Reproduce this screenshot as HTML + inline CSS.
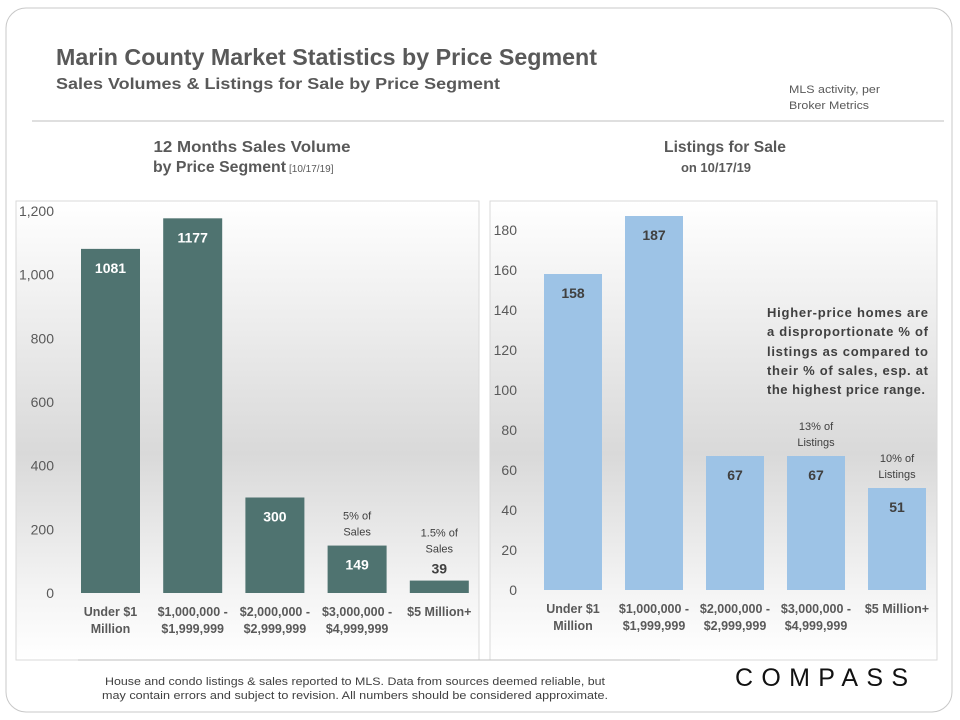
<!DOCTYPE html>
<html><head><meta charset="utf-8"><style>
body{margin:0;background:#fff;}
svg{display:block;font-family:"Liberation Sans",sans-serif;}
</style></head><body>
<svg width="960" height="720" viewBox="0 0 960 720">
<defs>
<linearGradient id="bg" x1="0" y1="0" x2="0" y2="1">
<stop offset="0" stop-color="#ffffff"/><stop offset="0.55" stop-color="#d9d9d9"/><stop offset="0.85" stop-color="#f4f4f4"/><stop offset="1" stop-color="#ffffff"/>
</linearGradient>
</defs>
<rect x="6" y="8" width="946" height="704" rx="20" fill="#fff" stroke="#c8c8c8"/>
<text x="56" y="65" font-size="23" font-weight="bold" fill="#595959" textLength="541" lengthAdjust="spacingAndGlyphs">Marin County Market Statistics by Price Segment</text>
<text x="56" y="89" font-size="16" font-weight="bold" fill="#595959" textLength="444" lengthAdjust="spacingAndGlyphs">Sales Volumes &amp; Listings for Sale by Price Segment</text>
<text x="789" y="93" font-size="11" fill="#595959" textLength="91" lengthAdjust="spacingAndGlyphs">MLS activity, per</text>
<text x="789" y="109" font-size="11" fill="#595959" textLength="80" lengthAdjust="spacingAndGlyphs">Broker Metrics</text>
<line x1="32" y1="121" x2="944" y2="121" stroke="#bfbfbf"/>
<text x="252" y="152" font-size="16" font-weight="bold" fill="#595959" text-anchor="middle" textLength="197" lengthAdjust="spacingAndGlyphs">12 Months Sales Volume</text>
<text x="153" y="172" font-size="16" font-weight="bold" fill="#595959"><tspan textLength="133" lengthAdjust="spacingAndGlyphs">by Price Segment</tspan><tspan font-size="10" font-weight="normal" dx="3">[10/17/19]</tspan></text>
<text x="725" y="152" font-size="16" font-weight="bold" fill="#595959" text-anchor="middle" textLength="122" lengthAdjust="spacingAndGlyphs">Listings for Sale</text>
<text x="716" y="172" font-size="13" font-weight="bold" fill="#595959" text-anchor="middle">on 10/17/19</text>
<rect x="16" y="201" width="463" height="459" fill="url(#bg)" stroke="#d9d9d9"/>
<rect x="490" y="201" width="447" height="459" fill="url(#bg)" stroke="#d9d9d9"/>
<g id="left"></g><g id="right"></g>
<text x="312" y="312" font-size="13" font-weight="bold" fill="#404040">
<tspan x="767" y="317" textLength="161" lengthAdjust="spacing">Higher-price homes are</tspan>
<tspan x="767" y="336" textLength="161" lengthAdjust="spacing">a disproportionate % of</tspan>
<tspan x="767" y="356" textLength="161" lengthAdjust="spacing">listings as compared to</tspan>
<tspan x="767" y="375" textLength="161" lengthAdjust="spacing">their % of sales, esp. at</tspan>
<tspan x="767" y="394" textLength="158" lengthAdjust="spacing">the highest price range.</tspan>
</text>
<line x1="78" y1="660" x2="680" y2="660" stroke="#bfbfbf"/>
<text x="355" y="685" font-size="11" fill="#404040" text-anchor="middle" textLength="500" lengthAdjust="spacingAndGlyphs">House and condo listings &amp; sales reported to MLS. Data from sources deemed reliable, but</text>
<text x="355" y="699" font-size="11" fill="#404040" text-anchor="middle" textLength="506" lengthAdjust="spacingAndGlyphs">may contain errors and subject to revision. All numbers should be considered approximate.</text>
<text x="735" y="686" font-size="25" fill="#111" textLength="173" lengthAdjust="spacing">COMPASS</text>
</svg>
<script>
const categories1 = ["Under $1|Million","$1,000,000 -|$1,999,999","$2,000,000 -|$2,999,999","$3,000,000 -|$4,999,999","$5 Million+"];
const salesValues = [1081,1177,300,149,39];
const salesTicks = [0,200,400,600,800,1000,1200];
const salesNotes = ["","","","5% of|Sales","1.5% of|Sales"];
const listingValues = [158,187,67,67,51];
const listingTicks = [0,20,40,60,80,100,120,140,160,180];
const listingNotes = ["","","","13% of|Listings","10% of|Listings"];
const NS="http://www.w3.org/2000/svg";
function mk(tag,attrs,parent,txt){const e=document.createElementNS(NS,tag);for(const k in attrs)e.setAttribute(k,attrs[k]);if(txt!==undefined)e.textContent=txt;parent.appendChild(e);return e;}
function draw(gid,cfg){
  const g=document.getElementById(gid);
  const y=v=>cfg.y0-v*cfg.k;
  cfg.ticks.forEach(t=>{
    const e=mk('text',{x:cfg.tickX,y:y(t)+5,'font-size':14,fill:'#595959','text-anchor':'end'},g,t.toLocaleString('en-US'));
    
    
  });
  cfg.values.forEach((v,i)=>{
    const x=cfg.x0+i*cfg.step, cx=x+cfg.w/2;
    const r=mk('rect',{x:x,y:y(v),width:cfg.w,height:v*cfg.k,fill:cfg.color},g);
    
    
    const inside=v*cfg.k>30;
    const lt=mk('text',{x:cx,y:inside?y(v)+24:y(v)-7,'font-size':14,'font-weight':'bold',fill:inside?cfg.lblColor:'#404040','text-anchor':'middle'},g,String(v));
    
    
    const note=cfg.notes[i];
    if(note){
      const top=inside?y(v)-10:y(v)-28;
      note.split('|').forEach((s,j,a)=>{
        const n=mk('text',{x:cx,y:top-(a.length-1-j)*16,'font-size':11,fill:'#404040','text-anchor':'middle'},g,s);
        
        
      });
    }
    categories1[i].split('|').forEach((s,j)=>{
      const c=mk('text',{x:cx,y:cfg.y0+23+j*17,'font-size':12.5,'font-weight':'bold',fill:'#595959','text-anchor':'middle'},g,s);
      
      
    });
  });
}
draw('left',{values:salesValues,ticks:salesTicks,notes:salesNotes,y0:593,k:382/1200,x0:81,step:82.2,w:59,color:'#4f7370',lblColor:'#ffffff',tickX:54});
draw('right',{values:listingValues,ticks:listingTicks,notes:listingNotes,y0:590,k:2,x0:544,step:81,w:58,color:'#9dc3e6',lblColor:'#404040',tickX:517});
</script>
</body></html>
